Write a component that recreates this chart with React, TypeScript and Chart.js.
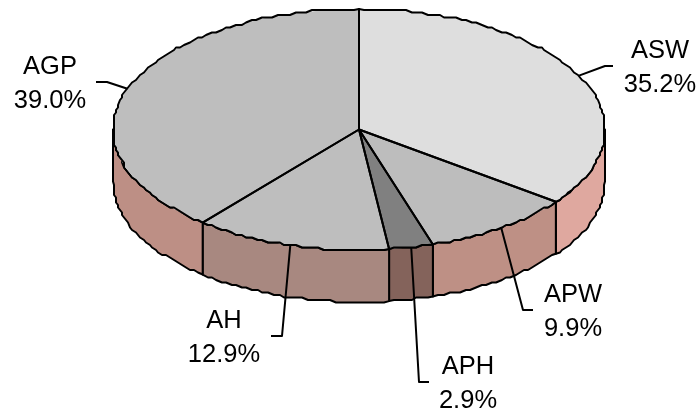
import React, { useEffect, useRef } from "react";
import { Chart, registerables } from "chart.js";

Chart.register(...registerables);

const categories = ["ASW", "APW", "APH", "AH", "AGP"];
const shares = [35.2, 9.9, 2.9, 12.9, 39.0];
const topColors = ["#dedede", "#bdbdbd", "#808080", "#bebebe", "#bebebe"];
const wallColors = ["#dfa89f", "#be9085", "#84635b", "#a88880", "#bd8f85"];

// Leader elbows and text anchors, in slice order
const leaderElbows = [
  [[605, 66], [613, 66]],
  [[523, 310], [533, 310]],
  [[419, 382], [429, 382]],
  [[282, 336], [271, 336]],
  [[107, 82], [96, 82]],
];
const labelAnchors = [[660, 58], [573, 302], [468, 374], [224, 328], [50, 74]];

const CX = 359;
const CY = 129.5;
const RX = 246;
const RY = 120.5;
const DEPTH = 52;
const SNAP_X = 2;
const SNAP_Y = 2.5;

// angle is Chart.js's (0 = +x axis, clockwise on screen)
const rim = (a: number, dy = 0, snap = true): [number, number] => {
  const x = CX + RX * Math.cos(a);
  const y = CY + dy + RY * Math.sin(a);
  if (!snap) return [x, y];
  return [Math.round(x / SNAP_X) * SNAP_X, Math.round(y / SNAP_Y) * SNAP_Y];
};

const arcPath = (ctx: CanvasRenderingContext2D, a0: number, a1: number, dy = 0, move = false) => {
  const steps = Math.max(2, Math.ceil(Math.abs(a1 - a0) / 0.024));
  for (let i = 0; i <= steps; i++) {
    const a = a0 + ((a1 - a0) * i) / steps;
    const end = i === 0 || i === steps;
    const [x, y] = rim(a, dy, !end);
    if (i === 0 && move) ctx.moveTo(x, y);
    else ctx.lineTo(x, y);
  }
};

const pie3d = {
  id: "pie3d",
  beforeDatasetsDraw(chart: any) {
    const ctx: CanvasRenderingContext2D = chart.ctx;
    const arcs = chart.getDatasetMeta(0).data;
    // Walls: the front half of the rim only
    ctx.save();
    ctx.lineWidth = 2;
    ctx.strokeStyle = "#000";
    ctx.lineJoin = "round";
    arcs.forEach((arc: any, i: number) => {
      const a0 = Math.max(arc.startAngle, 0);
      const a1 = Math.min(arc.endAngle, Math.PI);
      if (a1 <= a0) return;
      ctx.beginPath();
      arcPath(ctx, a0, a1, 0, true);
      arcPath(ctx, a1, a0, DEPTH);
      ctx.closePath();
      ctx.fillStyle = wallColors[i];
      ctx.fill();
      ctx.stroke();
    });
    ctx.restore();
    // Squash the library's circular pie into the ellipse of the top face
    const first = arcs[0];
    ctx.save();
    ctx.translate(CX, CY);
    ctx.scale(RX / first.outerRadius, RY / first.outerRadius);
    ctx.translate(-first.x, -first.y);
  },
  afterDatasetsDraw(chart: any) {
    const ctx: CanvasRenderingContext2D = chart.ctx;
    ctx.restore();
    const arcs = chart.getDatasetMeta(0).data;
    ctx.save();
    ctx.lineWidth = 2;
    ctx.strokeStyle = "#000";
    ctx.lineJoin = "round";
    arcs.forEach((arc: any) => {
      ctx.beginPath();
      ctx.moveTo(CX, CY);
      arcPath(ctx, arc.startAngle, arc.endAngle);
      ctx.closePath();
      ctx.stroke();
    });
    // Leaders
    arcs.forEach((arc: any, i: number) => {
      const mid = (arc.startAngle + arc.endAngle) / 2;
      const [x, y] = rim(mid, 0, false);
      ctx.beginPath();
      ctx.moveTo(x, y);
      leaderElbows[i].forEach(([px, py]) => ctx.lineTo(px, py));
      ctx.stroke();
    });
    // Labels
    ctx.fillStyle = "#000";
    ctx.font = '25.5px "Liberation Sans", Arial, sans-serif';
    ctx.textAlign = "center";
    ctx.textBaseline = "alphabetic";
    arcs.forEach((_: any, i: number) => {
      const [x, y] = labelAnchors[i];
      ctx.fillText(categories[i], x, y);
      ctx.fillText(shares[i].toFixed(1) + "%", x, y + 34);
    });
    ctx.restore();
  },
};

export default function App() {
  const ref = useRef<HTMLCanvasElement | null>(null);
  useEffect(() => {
    const chart = new Chart(ref.current as HTMLCanvasElement, {
      type: "pie",
      data: {
        labels: categories,
        datasets: [{ data: shares, backgroundColor: topColors, borderWidth: 0 }],
      },
      options: {
        responsive: false,
        animation: false,
        plugins: { legend: { display: false }, tooltip: { enabled: false } },
      },
      plugins: [pie3d],
    } as any);
    return () => chart.destroy();
  }, []);
  return (
    <div style={{ position: "absolute", left: 0, top: 0 }}>
      <canvas ref={ref} width={698} height={413} style={{ display: "block", width: 698, height: 413 }} />
    </div>
  );
}
